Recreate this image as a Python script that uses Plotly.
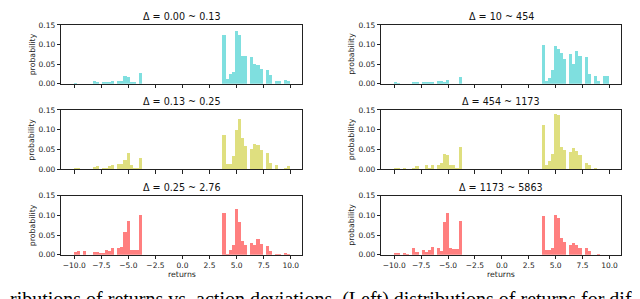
import plotly.graph_objects as go

# ---------------- data ----------------
bin_start = -10.0
bin_count = 70
bin_width = 20.0 / bin_count
neg_first_bin = 0     # first bin of the negative-return cluster
pos_first_bin = 48    # first bin of the positive-return cluster

titles = ["Δ = 0.00 ~ 0.13", "Δ = 10 ~ 454",
          "Δ = 0.13 ~ 0.25", "Δ = 454 ~ 1173",
          "Δ = 0.25 ~ 2.76", "Δ = 1173 ~ 5863"]

x_ticks = [-10.0, -7.5, -5.0, -2.5, 0.0, 2.5, 5.0, 7.5, 10.0]
y_ticks = [0.00, 0.05, 0.10, 0.15]

# probabilities of bins 0..21 (negative cluster) and 48..69 (positive cluster)
r1_left_neg = [0.002, 0, 0, 0, 0, 0, 0.007, 0.005, 0, 0.005, 0.004, 0.004, 0.007, 0, 0.008, 0.008, 0.020, 0.018, 0.004, 0.004, 0, 0.028]
r1_left_pos = [0.124, 0.012, 0.025, 0.030, 0.134, 0.124, 0.071, 0.070, 0, 0.068, 0.051, 0.049, 0.037, 0, 0.035, 0.022, 0, 0.008, 0.008, 0, 0.010, 0.008]
r1_right_neg = [0.005, 0.002, 0, 0, 0, 0, 0.004, 0.005, 0, 0.004, 0.004, 0.004, 0.005, 0, 0.007, 0.007, 0.005, 0.011, 0, 0, 0, 0.017]
r1_right_pos = [0.100, 0.007, 0.015, 0.035, 0.097, 0.090, 0.078, 0.064, 0, 0.075, 0.051, 0.083, 0.071, 0, 0.068, 0.026, 0, 0.019, 0.007, 0, 0.019, 0.019]
r2_left_neg = [0.002, 0.002, 0, 0, 0, 0, 0.007, 0.008, 0, 0.003, 0.003, 0.008, 0.010, 0, 0.015, 0.013, 0.025, 0.042, 0.011, 0.003, 0.003, 0.030]
r2_left_pos = [0.086, 0.013, 0.015, 0.033, 0.099, 0.127, 0.079, 0.060, 0, 0.052, 0.064, 0.061, 0.048, 0, 0.042, 0.016, 0, 0.012, 0, 0, 0.003, 0.008]
r2_right_neg = [0.003, 0.003, 0, 0.003, 0, 0, 0.003, 0.009, 0, 0, 0.010, 0.004, 0.012, 0, 0.010, 0.016, 0.039, 0.036, 0.010, 0.010, 0.003, 0.056]
r2_right_pos = [0.113, 0.010, 0.022, 0.038, 0.140, 0.138, 0.057, 0.048, 0, 0.045, 0.054, 0.047, 0.037, 0, 0.016, 0.010, 0, 0.003, 0, 0, 0, 0]
r3_left_neg = [0.007, 0.010, 0, 0.010, 0, 0, 0.007, 0.007, 0.005, 0.005, 0.013, 0.010, 0.017, 0, 0.018, 0.020, 0.059, 0.086, 0.013, 0.013, 0.013, 0.103]
r3_left_pos = [0.108, 0.004, 0.013, 0.026, 0.116, 0.084, 0.037, 0.026, 0, 0.030, 0.026, 0.040, 0.029, 0, 0.024, 0.010, 0, 0.004, 0.004, 0, 0.005, 0.004]
r3_right_neg = [0.005, 0.005, 0, 0.005, 0.003, 0, 0.019, 0.008, 0, 0.012, 0.009, 0.013, 0.020, 0, 0.019, 0.010, 0.083, 0.108, 0.019, 0.015, 0.016, 0.086]
r3_right_pos = [0.100, 0.013, 0.013, 0.018, 0.101, 0.093, 0.043, 0.034, 0, 0.026, 0.031, 0.026, 0.017, 0, 0.019, 0.011, 0, 0, 0.002, 0, 0, 0]

caption = "ributions of returns vs. action deviations. (Left) distributions of returns for dif"

# ---------------- layout / style ----------------
W, H = 640, 299
col_px = [(53.3, 294.0), (373.3, 612.7)]
row_px = [(13.3, 74.0), (101.0, 162.3), (189.3, 250.3)]
ylabel_x = [24.0, 343.5]
row_colors = ["rgb(127,223,223)", "rgb(223,223,127)", "rgb(255,127,127)"]
x_range = [-11.2, 11.04]
AX = "#222222"
FONT = "DejaVu Sans"

panels = [
    (r1_left_neg, r1_left_pos), (r1_right_neg, r1_right_pos),
    (r2_left_neg, r2_left_pos), (r2_right_neg, r2_right_pos),
    (r3_left_neg, r3_left_pos), (r3_right_neg, r3_right_pos),
]


def px_x(p):
    return p / W


def px_y(p):
    return 1 - p / H


fig = go.Figure()
annotations = []
layout = dict(width=W, height=H, margin=dict(l=0, r=0, t=0, b=0, pad=0),
              paper_bgcolor="white", plot_bgcolor="white",
              showlegend=False, bargap=0, barmode="overlay",
              font=dict(family=FONT, size=7.5, color=AX))

for i, (neg, pos) in enumerate(panels):
    r, c = divmod(i, 2)
    n = i + 1
    sfx = "" if n == 1 else str(n)
    xs = [bin_start + (neg_first_bin + k + 0.5) * bin_width for k in range(len(neg))]
    xs += [bin_start + (pos_first_bin + k + 0.5) * bin_width for k in range(len(pos))]
    ys = list(neg) + list(pos)
    fig.add_trace(go.Bar(x=xs, y=ys, width=bin_width,
                         marker=dict(color=row_colors[r], line=dict(width=0)),
                         xaxis="x" + sfx, yaxis="y" + sfx, hoverinfo="skip"))
    x0, x1 = col_px[c]
    top, bot = row_px[r]
    layout["xaxis" + sfx] = dict(
        domain=[px_x(x0), px_x(x1)], anchor="y" + sfx, range=x_range,
        tickmode="array", tickvals=x_ticks, tickformat=".1f",
        showticklabels=(r == 2), ticks="outside", ticklen=3.5, tickwidth=0.8,
        tickcolor=AX, showline=True, mirror=True, linecolor=AX, linewidth=1,
        showgrid=False, zeroline=False, tickfont=dict(size=7.5, family=FONT, color=AX))
    layout["yaxis" + sfx] = dict(
        domain=[px_y(bot), px_y(top)], anchor="x" + sfx, range=[0, 0.15],
        tickmode="array", tickvals=y_ticks, tickformat=".2f",
        ticks="outside", ticklen=3.5, tickwidth=0.8, tickcolor=AX,
        showline=True, mirror=True, linecolor=AX, linewidth=1,
        showgrid=False, zeroline=False, tickfont=dict(size=7.5, family=FONT, color=AX))
    # title
    annotations.append(dict(text=titles[i], x=px_x((x0 + x1) / 2), y=px_y(top - 8.5),
                            xref="paper", yref="paper", xanchor="center", yanchor="middle",
                            showarrow=False, font=dict(size=9.6, family=FONT, color="#111")))
    # y label
    annotations.append(dict(text="probability", x=px_x(ylabel_x[c]), y=px_y((top + bot) / 2),
                            xref="paper", yref="paper", xanchor="center", yanchor="middle",
                            textangle=-90, showarrow=False,
                            font=dict(size=7.8, family=FONT, color=AX)))
    if r == 2:
        annotations.append(dict(text="returns", x=px_x((x0 + x1) / 2), y=px_y(270.7),
                                xref="paper", yref="paper", xanchor="center", yanchor="middle",
                                showarrow=False, font=dict(size=7.8, family=FONT, color=AX)))

annotations.append(dict(text=caption, x=0, y=px_y(296), xref="paper", yref="paper",
                        xanchor="left", yanchor="middle", showarrow=False,
                        font=dict(size=20, family="Liberation Serif", color="black")))

layout["annotations"] = annotations
fig.update_layout(**layout)
fig.write_html("out.html")
